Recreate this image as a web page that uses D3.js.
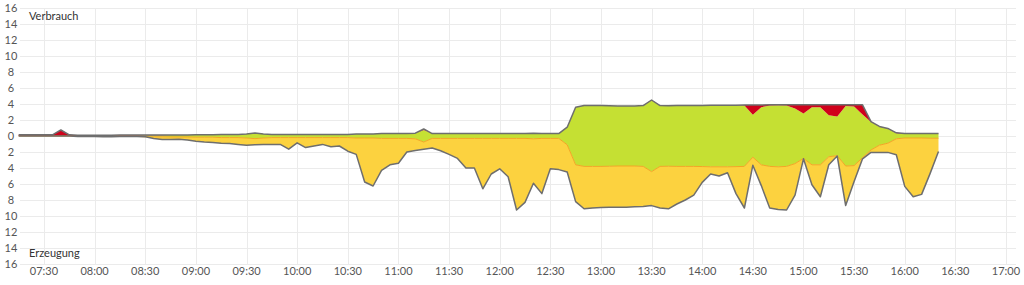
<!DOCTYPE html>
<html><head><meta charset="utf-8">
<script src="https://cdn.jsdelivr.net/npm/d3@7"></script>
<style>
html,body{margin:0;padding:0;background:#fff;}
svg{display:block;font-family:Lato,"Open Sans",sans-serif;}
</style></head>
<body><svg id="c" width="1024" height="285"></svg>
<script>
// sampling: 5-minute readings starting 07:15
const startTime = "07:15";
const stepMinutes = 5;
// total consumption (Verbrauch), kW
const consumption = [0.15,0.15,0.15,0.15,0.15,0.75,0.15,0.1,0.1,0.1,
 0.1,0.1,0.12,0.12,0.12,0.12,0.12,0.12,0.12,0.12,
 0.12,0.15,0.15,0.15,0.2,0.2,0.2,0.25,0.37,0.25,
 0.2,0.2,0.2,0.2,0.2,0.2,0.2,0.2,0.2,0.2,
 0.25,0.25,0.25,0.3,0.3,0.3,0.3,0.35,0.88,0.3,
 0.3,0.3,0.3,0.3,0.3,0.3,0.3,0.3,0.3,0.3,
 0.3,0.35,0.3,0.3,0.3,1.1,3.6,3.8,3.8,3.8,
 3.78,3.75,3.75,3.75,3.8,4.5,3.8,3.78,3.8,3.8,
 3.8,3.82,3.85,3.85,3.85,3.85,3.87,3.87,3.88,3.9,
 3.9,3.9,3.9,3.9,3.9,3.9,3.9,3.9,3.9,3.9,
 3.9,1.8,1.2,0.95,0.4,0.3,0.3,0.3,0.32,0.32];
// self-consumed PV (Eigenverbrauch), kW
const selfUse = [0,0,0,0,0,0,0,0,0,0,
 0.05,0.05,0.05,0.05,0.05,0.1,0.1,0.1,0.12,0.12,
 0.12,0.15,0.15,0.15,0.2,0.2,0.2,0.25,0.33,0.25,
 0.2,0.2,0.2,0.2,0.2,0.2,0.2,0.2,0.2,0.2,
 0.25,0.25,0.25,0.3,0.3,0.3,0.3,0.35,0.75,0.3,
 0.3,0.3,0.3,0.3,0.3,0.3,0.3,0.3,0.3,0.3,
 0.3,0.35,0.3,0.3,0.3,1.1,3.6,3.8,3.8,3.8,
 3.78,3.75,3.75,3.75,3.8,4.45,3.8,3.78,3.8,3.8,
 3.8,3.82,3.85,3.85,3.85,3.83,3.8,2.65,3.6,3.8,
 3.85,3.8,3.45,2.8,3.6,3.6,2.6,2.45,3.75,3.7,
 2.7,1.75,1.15,0.9,0.35,0.25,0.25,0.25,0.28,0.28];
// total generation (Erzeugung), kW
const generation = [0,0,0,0,0,0,0,0.05,0.05,0.05,
 0.1,0.1,0.05,0.05,0.05,0.1,0.3,0.45,0.45,0.4,
 0.5,0.65,0.75,0.8,0.9,0.95,1.05,1.15,1.1,1.05,
 1.05,1.05,1.65,0.85,1.45,1.25,1.05,1.35,1.25,1.9,
 2.3,5.75,6.25,4.3,3.6,3.4,2.0,1.8,1.65,1.5,
 1.85,2.3,2.8,4.0,4.0,6.6,4.75,4.1,5.1,9.25,
 8.3,5.9,7.2,4.1,4.2,4.5,8.2,9.1,9.0,8.95,
 8.9,8.9,8.9,8.85,8.8,8.7,9.0,9.1,8.5,8.0,
 7.4,5.8,4.75,5.0,4.6,7.2,9.0,3.65,6.2,9.0,
 9.2,9.25,7.4,2.85,6.1,7.6,3.6,2.5,8.7,5.7,
 2.85,2.05,2.05,2.05,2.35,6.3,7.6,7.3,4.7,1.95];
const xTickLabels = ["07:30","08:00","08:30","09:00","09:30","10:00","10:30","11:00","11:30","12:00",
 "12:30","13:00","13:30","14:00","14:30","15:00","15:30","16:00","16:30","17:00"];
const yTickValues = [-16,-14,-12,-10,-8,-6,-4,-2,0,2,4,6,8,10,12,14,16];
const labelTop = "Verbrauch";
const labelBottom = "Erzeugung";

const parseT = s => { const [h,m] = s.split(":").map(Number); return new Date(2024,0,1,h,m); };
const t0 = parseT(startTime);
const data = consumption.map((c,i) => ({
  t: new Date(t0.getTime() + i*stepMinutes*60000),
  cons: c, self: selfUse[i], gen: generation[i]
}));

const svg = d3.select("#c");
const x = d3.scaleTime().domain([parseT("07:30"), parseT("17:00")]).range([44, 1006]);
const y = d3.scaleLinear().domain([-16, 16]).range([264, 8]);
const plotLeft = 20, plotRight = 1016;

// grid
const g = svg.append("g");
g.selectAll(".hg").data(yTickValues).join("line")
  .attr("x1", plotLeft).attr("x2", plotRight)
  .attr("y1", d => y(d)+0.5).attr("y2", d => y(d)+0.5)
  .attr("stroke", "#ebebeb").attr("stroke-width", 1);
g.selectAll(".vg").data(xTickLabels).join("line")
  .attr("x1", d => Math.round(x(parseT(d)))+0.5).attr("x2", d => Math.round(x(parseT(d)))+0.5)
  .attr("y1", y(16)).attr("y2", y(-16))
  .attr("stroke", "#ebebeb").attr("stroke-width", 1);

// areas
const area = (f0, f1) => d3.area().x(d => x(d.t)).y0(d => y(f0(d))).y1(d => y(f1(d))).curve(d3.curveLinear);
svg.append("path").datum(data).attr("fill", "#fcd23f")
  .attr("d", area(d => -d.gen, d => -d.self));
svg.append("path").datum(data).attr("fill", "#c5e033")
  .attr("d", area(d => -d.self, d => d.self));
svg.append("path").datum(data).attr("fill", "#d0021b")
  .attr("d", area(d => d.self, d => d.cons));

const line = f => d3.line().x(d => x(d.t)).y(d => y(f(d))).curve(d3.curveLinear);
svg.append("path").datum(data).attr("fill", "none").attr("stroke", "#f5a524").attr("stroke-width", 1)
  .attr("d", line(d => -d.self));
svg.append("path").datum(data).attr("fill", "none").attr("stroke", "#6e6e6e").attr("stroke-width", 1.5)
  .attr("stroke-linejoin", "round").attr("d", line(d => d.cons));
svg.append("path").datum(data).attr("fill", "none").attr("stroke", "#6e6e6e").attr("stroke-width", 1.5)
  .attr("stroke-linejoin", "round").attr("d", line(d => -d.gen));

// y labels
svg.append("g").selectAll("text").data(yTickValues).join("text")
  .attr("x", 11).attr("y", d => y(d)).attr("dy", "0.35em")
  .attr("text-anchor", "middle").attr("font-size", 11).attr("fill", "#555")
  .text(d => Math.abs(d));
// x labels
svg.append("g").selectAll("text").data(xTickLabels).join("text")
  .attr("x", d => x(parseT(d))).attr("y", 271).attr("dy", "0.35em")
  .attr("text-anchor", "middle").attr("font-size", 11).attr("fill", "#555")
  .text(d => d);

svg.append("text").attr("x", 29).attr("y", y(15)).attr("dy", "0.35em")
  .attr("font-size", 11).attr("fill", "#333").text(labelTop);
svg.append("text").attr("x", 29).attr("y", y(-14.7)).attr("dy", "0.35em")
  .attr("font-size", 11).attr("fill", "#333").text(labelBottom);
</script></body></html>
